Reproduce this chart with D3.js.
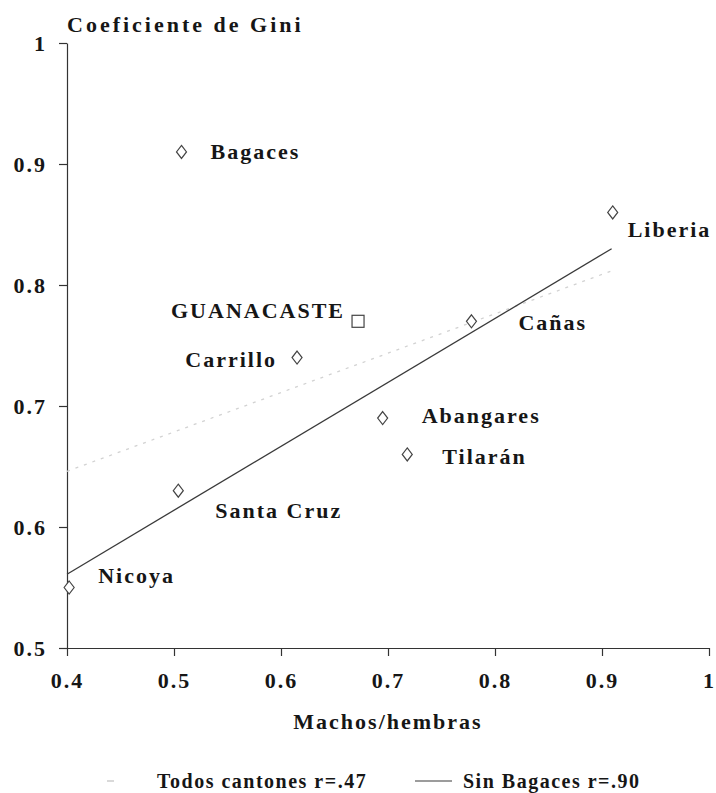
<!DOCTYPE html>
<html>
<head>
<meta charset="utf-8">
<script src="https://cdn.jsdelivr.net/npm/d3@7"></script>
<style>
  body { margin: 0; background: #fff; }
  text { font-family: "Liberation Serif", "Times New Roman", serif; font-weight: bold; fill: #161616; }
</style>
</head>
<body>
<div id="mainDiv"></div>
<script>
'use strict';

// cantones: machos/hembras vs Gini
var cantones = ['Nicoya', 'Santa Cruz', 'Carrillo', 'Abangares', 'Tilarán', 'Cañas', 'Liberia', 'Bagaces'];
var ratio    = [0.402, 0.504, 0.615, 0.695, 0.718, 0.778, 0.910, 0.507];
var gini     = [0.55, 0.63, 0.74, 0.69, 0.66, 0.77, 0.86, 0.91];

var provincia = ['GUANACASTE'];
var provRatio = [0.672];
var provGini  = [0.77];

// fitted lines (end points)
var todosX = [0.40, 0.91];
var todosY = [0.646, 0.812];
var sinBagX = [0.40, 0.909];
var sinBagY = [0.561, 0.830];

var xTicks = [0.4, 0.5, 0.6, 0.7, 0.8, 0.9, 1];
var yTicks = [0.5, 0.6, 0.7, 0.8, 0.9, 1];

var legendLabels = ['Todos cantones r=.47', 'Sin Bagaces r=.90'];

var myApp = {};
myApp.w = 716;
myApp.h = 793;

// label offsets from the marker, in px
myApp.labelPos = {
    'Nicoya':     {dx: 29,  dy: -5,  anchor: 'start'},
    'Santa Cruz': {dx: 37,  dy: 27,  anchor: 'start'},
    'Carrillo':   {dx: -20, dy: 9,   anchor: 'end'},
    'Abangares':  {dx: 39,  dy: 5,   anchor: 'start'},
    'Tilarán':    {dx: 35,  dy: 10,  anchor: 'start'},
    'Cañas':      {dx: 47,  dy: 9,   anchor: 'start'},
    'Liberia':    {dx: 15,  dy: 25,  anchor: 'start'},
    'Bagaces':    {dx: 29,  dy: 7,   anchor: 'start'},
    'GUANACASTE': {dx: -13, dy: -3,  anchor: 'end'}
};

myApp.x = d3.scaleLinear().domain([0.4, 1]).range([67, 709]);
myApp.y = d3.scaleLinear().domain([0.5, 1]).range([648, 43]);

myApp.fmt = function(d) { return d === 1 ? '1' : d.toFixed(1); };

myApp.diamond = function(cx, cy) {
    return 'M' + cx + ',' + (cy - 6.5) + 'L' + (cx + 5) + ',' + cy +
           'L' + cx + ',' + (cy + 6.5) + 'L' + (cx - 5) + ',' + cy + 'Z';
};

myApp.run = function()
{
    var x = myApp.x, y = myApp.y;
    var svg = d3.select('#mainDiv').append('svg')
        .attr('width', myApp.w)
        .attr('height', myApp.h);

    // axes
    var yAxis = svg.append('g')
        .attr('transform', 'translate(' + x(0.4) + ',0)')
        .call(d3.axisLeft(y).tickValues(yTicks).tickFormat(myApp.fmt).tickSize(8).tickSizeOuter(0).tickPadding(12));
    var xAxis = svg.append('g')
        .attr('transform', 'translate(0,' + y(0.5) + ')')
        .call(d3.axisBottom(x).tickValues(xTicks).tickFormat(myApp.fmt).tickSize(8).tickSizeOuter(0).tickPadding(16));

    [xAxis, yAxis].forEach(function(a) {
        a.selectAll('path, line').attr('stroke', '#333').attr('stroke-width', 1.2);
        a.selectAll('text')
            .style('font-family', '"Liberation Serif", serif')
            .style('font-weight', 'bold')
            .style('font-size', '22px')
            .style('letter-spacing', '2px')
            .attr('fill', '#161616');
    });
    xAxis.selectAll('text').attr('dy', '0.71em');

    // titles
    svg.append('text')
        .attr('x', 67).attr('y', 32)
        .style('font-size', '22px')
        .style('letter-spacing', '3px')
        .text('Coeficiente de Gini');

    svg.append('text')
        .attr('x', (x(0.4) + x(1)) / 2).attr('y', 729)
        .attr('text-anchor', 'middle')
        .style('font-size', '22px')
        .style('letter-spacing', '2px')
        .text('Machos/hembras');

    // fitted lines
    var line = d3.line().x(function(d) { return x(d[0]); }).y(function(d) { return y(d[1]); });

    svg.append('path')
        .datum(d3.zip(todosX, todosY))
        .attr('d', line)
        .attr('fill', 'none')
        .attr('stroke', '#d2d2d2')
        .attr('stroke-width', 1.3)
        .attr('stroke-dasharray', '3,6');

    svg.append('path')
        .datum(d3.zip(sinBagX, sinBagY))
        .attr('d', line)
        .attr('fill', 'none')
        .attr('stroke', '#3a3a3a')
        .attr('stroke-width', 1.3);

    // cantones
    var pts = cantones.map(function(c, i) { return {name: c, rx: ratio[i], g: gini[i]}; });
    svg.selectAll('path.pt')
        .data(pts)
        .enter()
        .append('path')
        .attr('class', 'pt')
        .attr('d', function(d) { return myApp.diamond(x(d.rx), y(d.g)); })
        .attr('fill', '#fff')
        .attr('stroke', '#444')
        .attr('stroke-width', 1.2);

    // provincia
    var prov = provincia.map(function(c, i) { return {name: c, rx: provRatio[i], g: provGini[i]}; });
    svg.selectAll('rect.prov')
        .data(prov)
        .enter()
        .append('rect')
        .attr('class', 'prov')
        .attr('x', function(d) { return x(d.rx) - 6; })
        .attr('y', function(d) { return y(d.g) - 6; })
        .attr('width', 12)
        .attr('height', 12)
        .attr('fill', '#fff')
        .attr('stroke', '#444')
        .attr('stroke-width', 1.2);

    svg.selectAll('text.lab')
        .data(pts.concat(prov))
        .enter()
        .append('text')
        .attr('class', 'lab')
        .attr('x', function(d) { return x(d.rx) + myApp.labelPos[d.name].dx; })
        .attr('y', function(d) { return y(d.g) + myApp.labelPos[d.name].dy; })
        .attr('text-anchor', function(d) { return myApp.labelPos[d.name].anchor; })
        .style('font-size', '22px')
        .style('letter-spacing', '2px')
        .text(function(d) { return d.name; });

    // legend
    var lg = svg.append('g');
    lg.append('line')
        .attr('x1', 107).attr('x2', 114).attr('y1', 781).attr('y2', 781)
        .attr('stroke', '#c4c4c4').attr('stroke-width', 1.3);
    lg.append('text')
        .attr('x', 157).attr('y', 788)
        .style('font-size', '20px')
        .style('letter-spacing', '1.5px')
        .text(legendLabels[0]);
    lg.append('line')
        .attr('x1', 415).attr('x2', 452).attr('y1', 781).attr('y2', 781)
        .attr('stroke', '#3a3a3a').attr('stroke-width', 1.2);
    lg.append('text')
        .attr('x', 463).attr('y', 788)
        .style('font-size', '20px')
        .style('letter-spacing', '1.5px')
        .text(legendLabels[1]);
}

window.onload = myApp.run;
</script>
</body>
</html>
